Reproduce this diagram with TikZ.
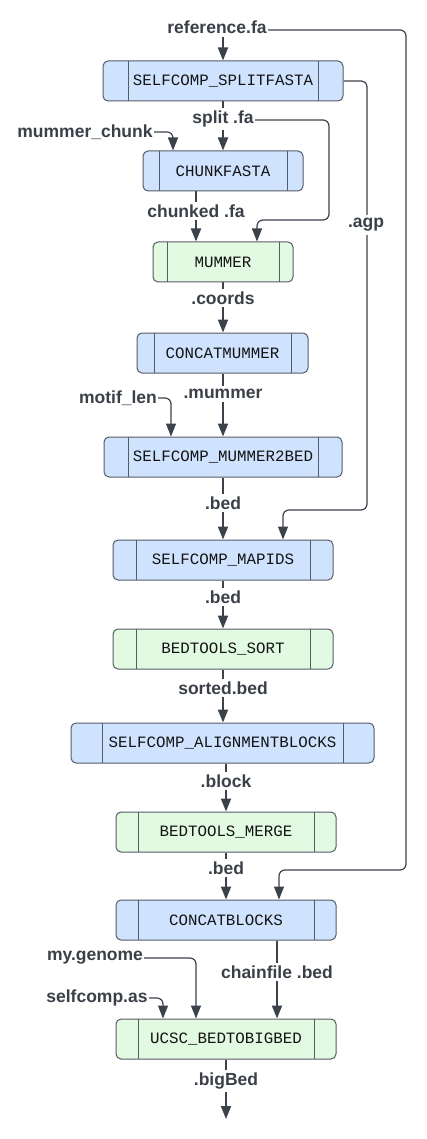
\documentclass[tikz,border=0pt]{standalone}
\usepackage{fontspec}
\usetikzlibrary{arrows.meta,backgrounds,calc}
\newfontfamily\lblfamily{Liberation Sans}
\newfontfamily\procfamily{Liberation Mono}
\definecolor{edgec}{RGB}{59,66,76}
\definecolor{boxline}{RGB}{85,92,102}
\definecolor{lblc}{RGB}{59,64,72}
\definecolor{bluef}{RGB}{207,227,255}
\definecolor{greenf}{RGB}{226,249,226}
\begin{document}
\begin{tikzpicture}[x=1pt,y=-1pt,
  proc/.style={draw=boxline, line width=1pt, rounded corners=5pt, minimum height=40pt, inner sep=0pt,
    font=\procfamily\fontsize{15.8}{18}\selectfont, text={rgb,255:red,20;green,20;blue,20},
    path picture={
      \draw[boxline, line width=1pt] ([xshift=#1]path picture bounding box.north west) -- ([xshift=#1]path picture bounding box.south west);
      \draw[boxline, line width=1pt] ([xshift=-#1]path picture bounding box.north east) -- ([xshift=-#1]path picture bounding box.south east);}},
  bproc/.style={proc=#1, fill=bluef},
  gproc/.style={proc=#1, fill=greenf},
  lbl/.style={font=\lblfamily\bfseries\fontsize{17.5}{20}\selectfont, text=lblc, fill=white, inner xsep=1pt, inner ysep=3pt},
  arr/.style={draw=edgec, line width=2pt, -{Triangle[width=10pt,length=13pt]}},
  route/.style={draw=edgec, line width=1.2pt, rounded corners=6pt, -{Triangle[width=10pt,length=13pt]}}
]
\useasboundingbox (0,0) rectangle (426,1139);
% process boxes
\node[bproc=25pt, minimum width=240pt] (split) at (223,81) {SELFCOMP\_SPLITFASTA};
\node[bproc=16pt, minimum width=160pt] (chunk) at (223,171) {CHUNKFASTA};
\node[gproc=14pt, minimum width=140pt] (mummer) at (223,262) {MUMMER};
\node[bproc=17pt, minimum width=171pt] (cmummer) at (222.5,353) {CONCATMUMMER};
\node[bproc=24pt, minimum width=238pt] (m2b) at (223,457) {SELFCOMP\_MUMMER2BED};
\node[bproc=23pt, minimum width=220pt] (mapids) at (223,560) {SELFCOMP\_MAPIDS};
\node[gproc=23pt, minimum width=220pt] (sort) at (223,649) {BEDTOOLS\_SORT};
\node[bproc=31pt, minimum width=303pt] (ablocks) at (222.5,743) {SELFCOMP\_ALIGNMENTBLOCKS};
\node[gproc=22pt, minimum width=220pt] (merge) at (226,832) {BEDTOOLS\_MERGE};
\node[bproc=22pt, minimum width=220pt] (cblocks) at (226,920) {CONCATBLOCKS};
\node[gproc=22pt, minimum width=220pt] (ucsc) at (226,1039) {UCSC\_BEDTOBIGBED};
% labels
\node[lbl] (lref) at (217,27) {reference.fa};
\node[lbl] (lsplit) at (223,119) {split .fa};
\node[lbl] (lchunkin) at (85,132) {mummer\_chunk};
\node[lbl] (lchunked) at (196,211) {chunked .fa};
\node[lbl] (lagp) at (366,225) {.agp};
\node[lbl] (lcoords) at (223,298) {.coords};
\node[lbl] (lmummer) at (223,394) {.mummer};
\node[lbl] (lmotif) at (118,398) {motif\_len};
\node[lbl] (lbed1) at (223,503) {.bed};
\node[lbl] (lbed2) at (223,597) {.bed};
\node[lbl] (lsorted) at (223,688) {sorted.bed};
\node[lbl] (lblock) at (226,781) {.block};
\node[lbl] (lbed3) at (226,868) {.bed};
\node[lbl] (lgenome) at (95,958) {my.genome};
\node[lbl] (lchain) at (277,972) {chainfile .bed};
\node[lbl] (las) at (97,998) {selfcomp.as};
\node[lbl] (lbig) at (226,1081) {.bigBed};
\coordinate (out) at (226,1119);
% connectors
\begin{scope}[on background layer]
\draw[arr] (lref.south -| split.north) -- (split.north);
\draw[route] ($(lref.east)+(0,3)$) -- (406,30) -- (406,870) -- (279,870) -- ([xshift=53pt]cblocks.north);
\draw[arr] (split.south) -- (chunk.north);
\draw[route] ($(lsplit.east)+(0,1)$) -- (329,120) -- (329,220) -- (257,220) -- ([xshift=34pt]mummer.north);
\draw[route] (split.east) -- (367,81) -- (367,510) -- (283,510) -- ([xshift=60pt]mapids.north);
\draw[route] (lchunkin.east) -- (173,132) -- ([xshift=-50pt]chunk.north);
\draw[arr] ([xshift=-27pt]chunk.south) -- ([xshift=-27pt]mummer.north);
\draw[arr] (mummer.south) -- (mummer.south |- cmummer.north);
\draw[arr] (m2b.north |- cmummer.south) -- (m2b.north);
\draw[route] (lmotif.east) -- (171,398) -- ([xshift=-52pt]m2b.north);
\draw[arr] (m2b.south) -- (mapids.north);
\draw[arr] (mapids.south) -- (sort.north);
\draw[arr] (sort.south) -- (sort.south |- ablocks.north);
\draw[arr] (merge.north |- ablocks.south) -- (merge.north);
\draw[arr] (merge.south) -- (cblocks.north);
\draw[arr] ([xshift=51pt]cblocks.south) -- ([xshift=51pt]ucsc.north);
\draw[route] (lgenome.east) -- (196,958) -- ([xshift=-30pt]ucsc.north);
\draw[route] (las.east) -- (163,998) -- ([xshift=-63pt]ucsc.north);
\draw[arr] (ucsc.south) -- (out);
\end{scope}
\end{tikzpicture}
\end{document}
